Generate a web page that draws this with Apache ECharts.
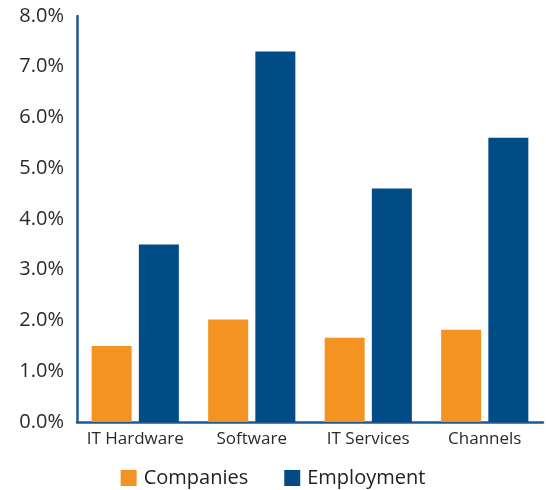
<!DOCTYPE html>
<html><head><meta charset="utf-8">
<script src="https://cdn.jsdelivr.net/npm/echarts@6/dist/echarts.min.js"></script>
<style>html,body{margin:0;padding:0;background:#fff}#c{width:546px;height:490px}</style>
</head><body><div id="c"></div>
<script>
const categories = ['IT Hardware', 'Software', 'IT Services', 'Channels'];
const companies = [1.5, 2.02, 1.66, 1.82];
const employment = [3.5, 7.3, 4.6, 5.6];
const yTicks = [0, 1, 2, 3, 4, 5, 6, 7, 8];

const chart = echarts.init(document.getElementById('c'), null, {renderer: 'canvas'});
const font = '"Open Sans", "Noto Sans", sans-serif';
chart.setOption({
  animation: false,
  textStyle: {fontFamily: font},
  grid: {left: 77, right: 3, top: 16, bottom: 68, containLabel: false},
  legend: {
    bottom: -3, left: 'center', itemWidth: 16, itemHeight: 16, itemGap: 36,
    icon: 'rect',
    textStyle: {fontSize: 20, color: '#222', fontFamily: font, padding: [0, 0, 0, 2]},
    data: ['Companies', 'Employment']
  },
  xAxis: {
    type: 'category', data: categories,
    axisLine: {lineStyle: {color: '#1d5a93', width: 2.5}},
    axisTick: {show: false},
    axisLabel: {fontSize: 17, color: '#2a2a2a', margin: 9, interval: 0}
  },
  yAxis: {
    type: 'value', min: yTicks[0], max: yTicks[yTicks.length - 1], interval: 1,
    axisLine: {show: true, lineStyle: {color: '#1d5a93', width: 2.5}},
    axisTick: {show: false},
    splitLine: {show: false},
    axisLabel: {fontSize: 20, color: '#2a2a2a', margin: 13,
      formatter: v => v.toFixed(1) + '%'}
  },
  series: [
    {name: 'Companies', type: 'bar', data: companies, barWidth: 40, barGap: '18%',
     itemStyle: {color: '#F39322'}},
    {name: 'Employment', type: 'bar', data: employment, barWidth: 40,
     itemStyle: {color: '#004C86'}}
  ]
});
</script></body></html>
